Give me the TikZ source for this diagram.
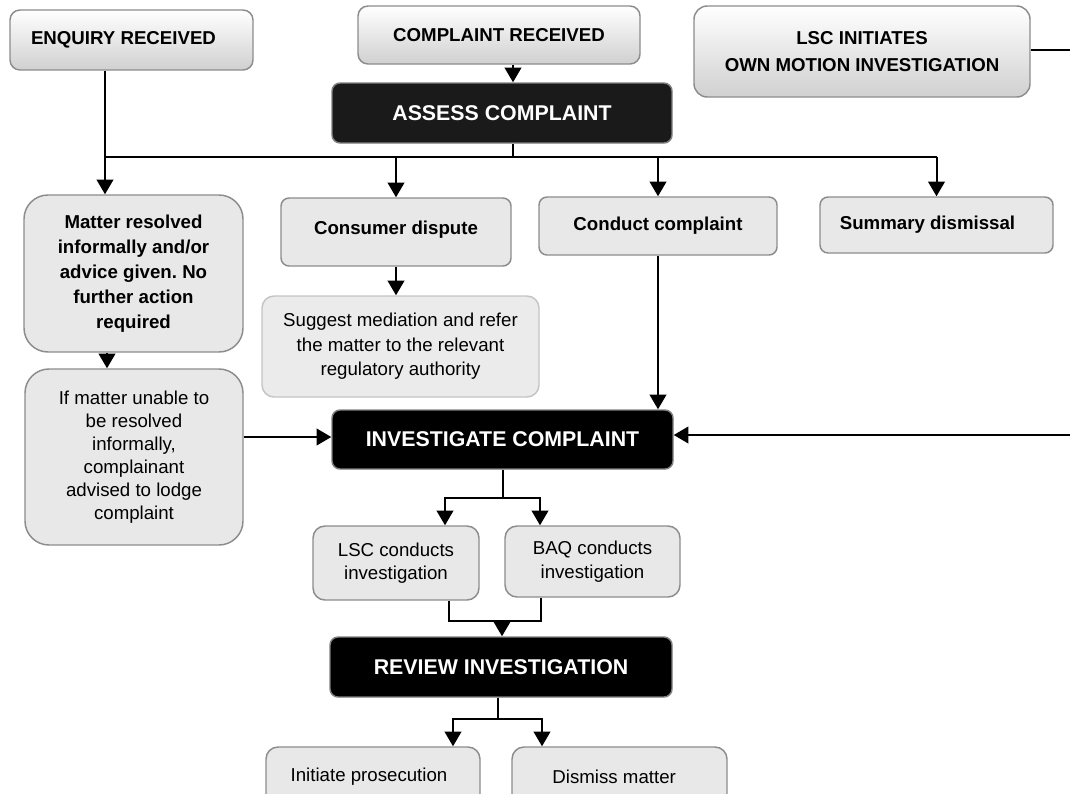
\documentclass[tikz,border=0pt]{standalone}
\usepackage{fontspec}
\setmainfont{Liberation Sans}
\usetikzlibrary{arrows.meta}
\frenchspacing
\definecolor{boxgray}{HTML}{E8E8E8}
\definecolor{bordergray}{HTML}{8C8C8C}
\definecolor{lightborder}{HTML}{C4C4C4}
\definecolor{lightfill}{HTML}{EBEBEB}
\definecolor{darkbox}{HTML}{1A1A1A}
\definecolor{gradbot}{HTML}{D0D0D0}
\newcommand\pxu[1]{#1*0.75pt}
\begin{document}
\begin{tikzpicture}[x=0.75pt,y=-0.75pt,
  base/.style={rectangle, inner sep=0pt, align=center, line width=1.1pt},
  grad/.style={base, draw=bordergray, top color=white, bottom color=gradbot, rounded corners=7.5pt,
    font=\fontsize{14}{20}\selectfont\bfseries},
  dark/.style={base, draw=gray, fill=black, text=white, rounded corners=6pt,
    font=\fontsize{16}{18}\selectfont\bfseries},
  grey/.style={base, draw=bordergray, fill=boxgray, rounded corners=6pt,
    font=\fontsize{14}{18}\selectfont\bfseries},
  plain/.style={base, draw=bordergray, fill=boxgray, rounded corners=9pt,
    font=\fontsize{14}{17.5}\selectfont},
  arr/.style={-{Triangle[width=12.5pt,length=11pt]}, line width=1.5pt},
  ln/.style={line width=1.5pt}
]
\useasboundingbox (0,0) rectangle (1070,793);

% top row
\node[grad, minimum width=\pxu{243}, minimum height=\pxu{60}] (enq) at (131.5,40) {ENQUIRY RECEIVED\hspace*{12pt}};
\node[grad, minimum width=\pxu{282}, minimum height=\pxu{58}] (crec) at (499,35) {COMPLAINT RECEIVED};
\node[grad, rounded corners=10pt, minimum width=\pxu{336}, minimum height=\pxu{91}] (lsci) at (862,51.5) {LSC INITIATES\\OWN MOTION INVESTIGATION};
\node[dark, fill=darkbox, minimum width=\pxu{340}, minimum height=\pxu{60}] (assess) at (502,113) {ASSESS COMPLAINT};

% second row
\node[grey, rounded corners=18pt, minimum width=\pxu{219}, minimum height=\pxu{157}, font=\fontsize{14}{18.7}\selectfont\bfseries] (matter) at (133.5,273.5) {Matter resolved\\informally and/or\\advice given. No\\further action\\required};
\node[grey, minimum width=\pxu{230}, minimum height=\pxu{68}] (consumer) at (396,232) {Consumer dispute\\[-12pt]\mbox{}};
\node[grey, minimum width=\pxu{238}, minimum height=\pxu{58}] (conduct) at (658,226) {Conduct complaint};
\node[grey, minimum width=\pxu{233}, minimum height=\pxu{56}] (summary) at (936.5,225) {Summary dismissal\hspace*{13.5pt}};

\node[plain, draw=lightborder, fill=lightfill, font=\fontsize{14}{18.4}\selectfont, minimum width=\pxu{277}, minimum height=\pxu{101}] (suggest) at (400.5,346.5) {Suggest mediation and refer\\the matter to the relevant\\regulatory authority};
\node[plain, rounded corners=18pt, font=\fontsize{14}{17.3}\selectfont, minimum width=\pxu{218}, minimum height=\pxu{176}] (ifbox) at (134,457) {If matter unable to\\be resolved\\informally,\\complainant\\advised to lodge\\complaint};

% investigation
\node[dark, minimum width=\pxu{341}, minimum height=\pxu{59}] (invest) at (502.5,439.5) {INVESTIGATE COMPLAINT};
\node[plain, minimum width=\pxu{166}, minimum height=\pxu{74}] (lscc) at (396,563) {LSC conducts\\investigation};
\node[plain, minimum width=\pxu{175}, minimum height=\pxu{71}] (baq) at (592.5,561.5) {BAQ conducts\\investigation};
\node[dark, minimum width=\pxu{342}, minimum height=\pxu{60}] (review) at (501,667) {REVIEW INVESTIGATION};
\node[plain, minimum width=\pxu{214}, minimum height=\pxu{60}] (init) at (373,777) {Initiate prosecution\hspace*{6pt}};
\node[plain, minimum width=\pxu{215}, minimum height=\pxu{60}] (dismiss) at (619.5,777) {Dismiss matter\hspace*{8pt}};

% coordinates
\coordinate (hL) at (105,157);
\coordinate (hM) at (513,157);
\coordinate (rc) at (1085,50);
\coordinate (ib) at (502.5,498);
\coordinate (ibl) at (445,498);
\coordinate (ibr) at (540,498);
\coordinate (mb) at (502,621);
\coordinate (mbl) at (449,621);
\coordinate (mbr) at (541,621);
\coordinate (rb) at (498,719);
\coordinate (rbl) at (453,719);
\coordinate (rbr) at (542,719);

% connectors top
\draw[arr] (crec.south -| hM) -- (assess.north -| hM);
\draw[ln] (assess.south -| hM) -- (hM);
\draw[ln] (hL) -- (summary.north |- hL);
\draw[arr] (enq.south -| hL) -- (matter.north -| hL);
\draw[arr] (consumer.north |- hL) -- (consumer.north);
\draw[arr] (conduct.north |- hL) -- (conduct.north);
\draw[arr] (summary.north |- hL) -- (summary.north);
\draw[arr] (consumer.south) -- (suggest.north -| consumer.south);
\draw[arr] (matter.south -| 107,0) -- (ifbox.north -| 107,0);
\draw[arr] (conduct.south) -- (conduct.south |- invest.north);
\draw[arr] (ifbox.east |- 0,437) -- (invest.west |- 0,437);
\draw[arr] (lsci.east |- rc) -- (rc) -- (rc |- 0,435) -- (invest.east |- 0,435);

% investigation split
\draw[ln] (invest.south) -- (ib);
\draw[arr] (ib) -- (ibl) -- (ibl |- lscc.north);
\draw[arr] (ib) -- (ibr) -- (ibr |- baq.north);
\draw[ln] (lscc.south -| mbl) -- (mbl) -- (mbr) -- (baq.south -| mbr);
\draw[arr] (mb) -- (review.north -| mb);
\draw[ln] (review.south -| rb) -- (rb);
\draw[arr] (rb) -- (rbl) -- (rbl |- init.north);
\draw[arr] (rb) -- (rbr) -- (rbr |- dismiss.north);
\end{tikzpicture}
\end{document}
